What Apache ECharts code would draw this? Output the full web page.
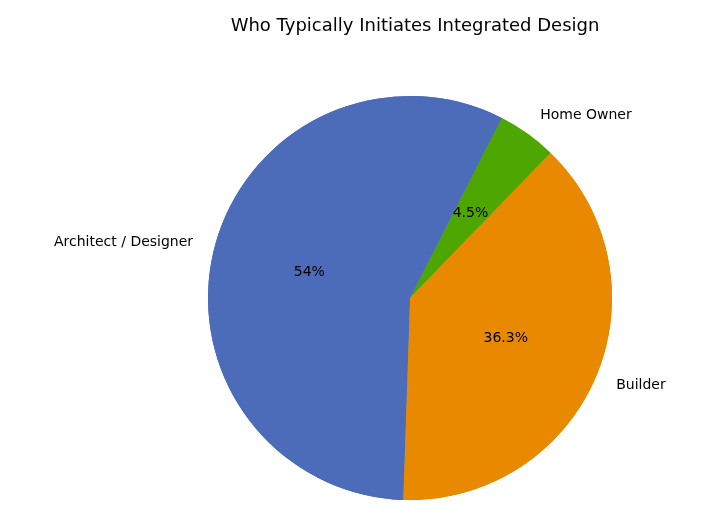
<!DOCTYPE html>
<html><head><meta charset="utf-8">
<script src="https://cdn.jsdelivr.net/npm/echarts@6/dist/echarts.min.js"></script>
<style>html,body{margin:0;padding:0;background:#fff}#c{width:715px;height:530px}</style>
</head><body><div id="c"></div>
<script>
const categories = ["Home Owner", "Builder", "Architect / Designer"];
const values = [4.5, 36.3, 54];
const pctLabels = ["4.5%", "36.3%", "54%"];
const colors = ["#4ea600", "#e98900", "#4c6cb9"];
const data = categories.map((c, i) => ({name: c, value: values[i], itemStyle: {color: colors[i]}}));
const chart = echarts.init(document.getElementById('c'));
const font = "DejaVu Sans";
chart.setOption({
  animation: false,
  title: {text: "Who Typically Initiates Integrated Design", left: 410, top: 12, textAlign: 'center',
    textStyle: {fontFamily: font, fontSize: 18, fontWeight: 'normal', color: '#000'}},
  series: [
    {type: 'pie', center: [410, 298], radius: 202, startAngle: 63, clockwise: true,
     data: data, silent: true,
     label: {position: 'outside', fontFamily: font, fontSize: 14, color: '#000', formatter: '{b}', distanceToLabelLine: 0},
     labelLine: {show: false, length: 22, length2: 0}},
    {type: 'pie', center: [410, 298], radius: 202, startAngle: 63, clockwise: true,
     data: data, silent: true,
     label: {position: 'inner', fontFamily: font, fontSize: 14, color: '#000',
       formatter: p => pctLabels[p.dataIndex]},
     labelLine: {show: false}}
  ]
});
</script></body></html>
